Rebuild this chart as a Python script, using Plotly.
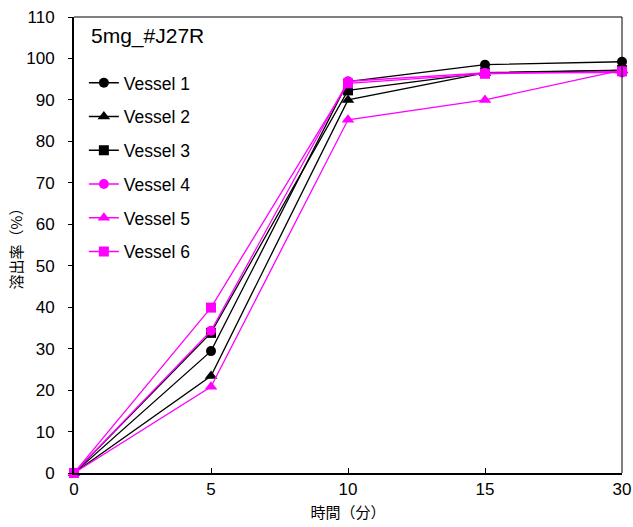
import plotly.graph_objects as go

times = ["0", "5", "10", "15", "30"]
v1 = [0, 29.4, 94.4, 98.5, 99.2]
v2 = [0, 23.4, 90.0, 96.5, 97.1]
v3 = [0, 33.8, 92.3, 96.6, 97.2]
v4 = [0, 34.3, 94.5, 96.5, 96.6]
v5 = [0, 20.8, 85.2, 90.0, 97.2]
v6 = [0, 39.9, 94.0, 96.3, 96.9]

series = [
    ("Vessel 1", v1, "black", "circle"),
    ("Vessel 2", v2, "black", "triangle-up"),
    ("Vessel 3", v3, "black", "square"),
    ("Vessel 4", v4, "#FF00FF", "circle"),
    ("Vessel 5", v5, "#FF00FF", "triangle-up"),
    ("Vessel 6", v6, "#FF00FF", "square"),
]

fig = go.Figure()
for i, (name, vals, col, sym) in enumerate(series):
    fig.add_trace(go.Scatter(
        x=times, y=vals, name=name, mode="lines+markers",
        line=dict(color=col, width=1.3),
        marker=dict(color=col, symbol=sym, size=10 if sym != "triangle-up" else 11),
        cliponaxis=False, legendgroup=f"g{i}",
    ))

font = "Liberation Sans, Arial, sans-serif"
cjk = "Noto Sans CJK JP, sans-serif"

fig.update_layout(
    width=633, height=527,
    margin=dict(l=74, r=11, t=17, b=54),
    plot_bgcolor="white", paper_bgcolor="white",
    font=dict(family=font, size=17, color="black"),
    showlegend=True,
    legend=dict(x=0.018, y=0.895, xanchor="left", yanchor="top",
                bgcolor="rgba(0,0,0,0)", font=dict(size=17.5, family=font),
                tracegroupgap=8, itemwidth=30),
    xaxis=dict(type="category", range=[0, 4], showline=True, linecolor="black",
               linewidth=2, ticks="inside", ticklen=5, tickcolor="black",
               showgrid=False, zeroline=False, automargin=False,
               tickfont=dict(size=17, family=font),
               title=dict(text="時間（分）", font=dict(family=cjk, size=15), standoff=9)),
    yaxis=dict(range=[0, 110], dtick=10, showline=True, linecolor="black",
               linewidth=2, ticks="outside", ticklen=4, tickcolor="black",
               ticklabelstandoff=10,
               showgrid=False, zeroline=False, automargin=False,
               tickfont=dict(size=17, family=font),
               title=dict(text="溶出率（%）", font=dict(family=cjk, size=15), standoff=0)),
    shapes=[
        dict(type="line", xref="paper", yref="paper", x0=0, x1=1, y0=1, y1=1,
             line=dict(color="black", width=1)),
        dict(type="line", xref="paper", yref="paper", x0=1, x1=1, y0=0, y1=1,
             line=dict(color="black", width=1)),
    ],
    annotations=[dict(text="5mg_#J27R", xref="paper", yref="paper", x=0.028, y=0.99,
                      xanchor="left", yanchor="top", showarrow=False,
                      font=dict(size=21, family=font))],
)

fig.write_html("out.html", config={"displayModeBar": False},
               post_script="document.body.style.margin='0px';")
